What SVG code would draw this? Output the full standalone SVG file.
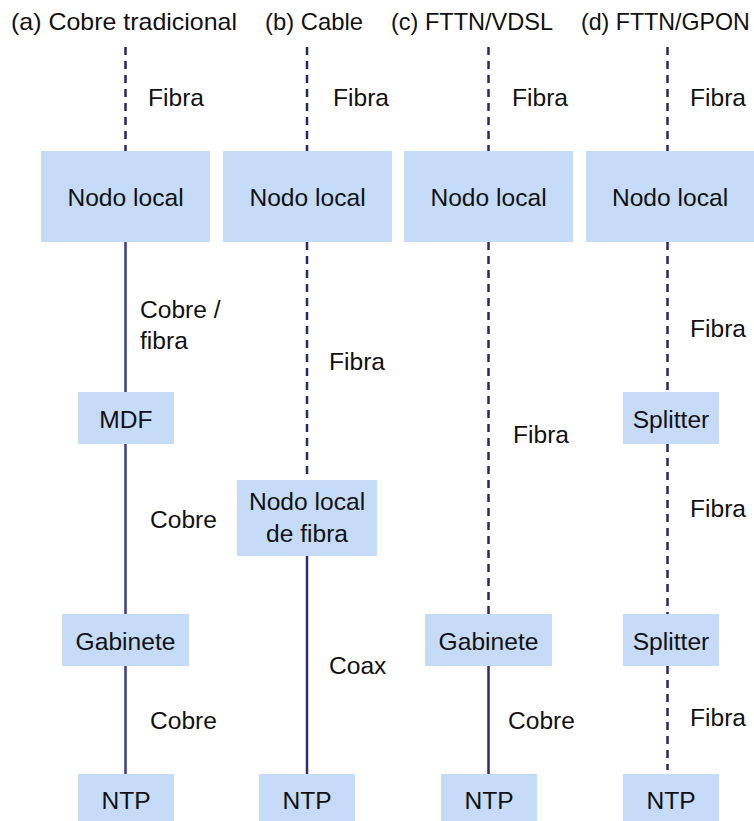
<svg xmlns="http://www.w3.org/2000/svg" width="754" height="821" viewBox="0 0 754 821">
<style>
text{font-family:"Liberation Sans",Arial,sans-serif;font-size:24.6px;fill:#111}
#titles text{font-size:23.2px}
.box{fill:#c5dbf8}
.c{text-anchor:middle}
.dash{stroke:#26256e;stroke-width:2.5;stroke-dasharray:8 6;fill:none}
.solid{stroke:#2c2a78;stroke-width:2.5;fill:none}
.solidA{stroke:#3b3a8c;stroke-width:2.5;fill:none}
</style>
<rect width="754" height="821" fill="#fff"/>
<g id="titles">
<text x="11" y="30" textLength="226" lengthAdjust="spacingAndGlyphs">(a) Cobre tradicional</text>
<text x="265" y="30" textLength="98" lengthAdjust="spacingAndGlyphs">(b) Cable</text>
<text x="391" y="30" textLength="162" lengthAdjust="spacingAndGlyphs">(c) FTTN/VDSL</text>
<text x="581" y="30">(d) FTTN/GPON</text>
</g>
<g id="connectors">
<line class="dash" x1="125.5" y1="47" x2="125.5" y2="151"/>
<line class="solidA" x1="125.5" y1="242" x2="125.5" y2="392"/>
<line class="solidA" x1="125.5" y1="444" x2="125.5" y2="614"/>
<line class="solidA" x1="125.5" y1="666" x2="125.5" y2="774"/>
<line class="dash" x1="307" y1="47" x2="307" y2="151"/>
<line class="dash" x1="307" y1="242" x2="307" y2="480"/>
<line class="solid" x1="307" y1="556" x2="307" y2="774"/>
<line class="dash" x1="488.5" y1="47" x2="488.5" y2="151"/>
<line class="dash" x1="488.5" y1="242" x2="488.5" y2="614"/>
<line class="solid" x1="488.5" y1="666" x2="488.5" y2="774"/>
<line class="dash" x1="667.5" y1="47" x2="667.5" y2="151"/>
<line class="dash" x1="667.5" y1="242" x2="667.5" y2="392"/>
<line class="dash" x1="667.5" y1="444" x2="667.5" y2="614"/>
<line class="dash" x1="667.5" y1="666" x2="667.5" y2="770"/>
<text x="148" y="106">Fibra</text>
<text x="333" y="106">Fibra</text>
<text x="512" y="106">Fibra</text>
<text x="690" y="106">Fibra</text>
<text x="140" y="318">Cobre /</text>
<text x="140" y="349">fibra</text>
<text x="150" y="528">Cobre</text>
<text x="150" y="729">Cobre</text>
<text x="329" y="370">Fibra</text>
<text x="329" y="674">Coax</text>
<text x="513" y="443">Fibra</text>
<text x="508" y="729">Cobre</text>
<text x="690" y="337">Fibra</text>
<text x="690" y="517">Fibra</text>
<text x="690" y="726">Fibra</text>
</g>
<g id="a-nodo"><rect class="box" x="41" y="151" width="169" height="91"/><text class="c" x="125.5" y="205.5">Nodo local</text></g>
<g id="a-mdf"><rect class="box" x="78" y="392" width="96" height="52"/><text class="c" x="126" y="428">MDF</text></g>
<g id="a-gab"><rect class="box" x="62" y="614" width="127" height="52"/><text class="c" x="125.5" y="650">Gabinete</text></g>
<g id="a-ntp"><rect class="box" x="78" y="774" width="96" height="47"/><text class="c" x="126" y="809">NTP</text></g>
<g id="b-nodo"><rect class="box" x="223" y="151" width="169" height="91"/><text class="c" x="307.5" y="205.5">Nodo local</text></g>
<g id="b-nodofibra"><rect class="box" x="237" y="480" width="140" height="76"/><text class="c" x="307" y="510">Nodo local</text><text class="c" x="307" y="542">de fibra</text></g>
<g id="b-ntp"><rect class="box" x="259" y="774" width="96" height="47"/><text class="c" x="307" y="809">NTP</text></g>
<g id="c-nodo"><rect class="box" x="404" y="151" width="169" height="91"/><text class="c" x="488.5" y="205.5">Nodo local</text></g>
<g id="c-gab"><rect class="box" x="425" y="614" width="127" height="52"/><text class="c" x="488.5" y="650">Gabinete</text></g>
<g id="c-ntp"><rect class="box" x="441" y="774" width="96" height="47"/><text class="c" x="489" y="809">NTP</text></g>
<g id="d-nodo"><rect class="box" x="586" y="151" width="169" height="91"/><text class="c" x="670" y="205.5">Nodo local</text></g>
<g id="d-split1"><rect class="box" x="623" y="392" width="96" height="52"/><text class="c" x="671" y="428">Splitter</text></g>
<g id="d-split2"><rect class="box" x="623" y="614" width="96" height="52"/><text class="c" x="671" y="650">Splitter</text></g>
<g id="d-ntp"><rect class="box" x="623" y="774" width="96" height="47"/><text class="c" x="671" y="809">NTP</text></g>
</svg>
